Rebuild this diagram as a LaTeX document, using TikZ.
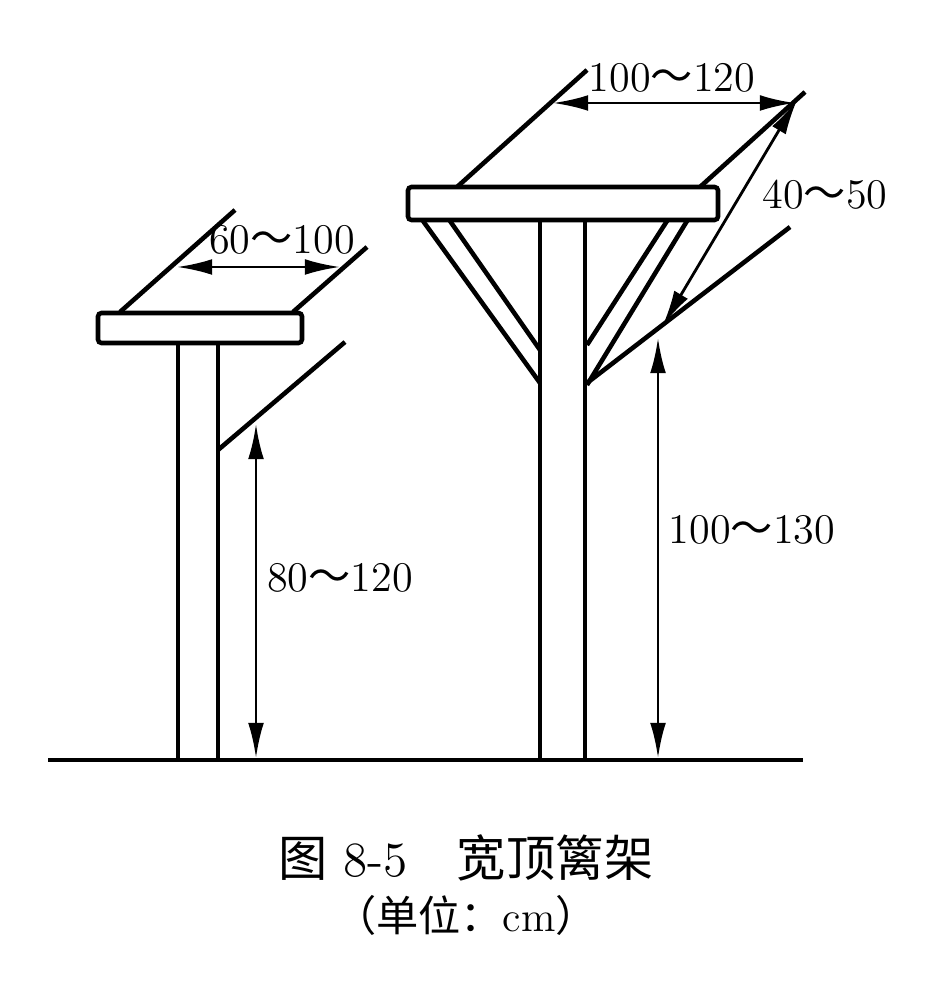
\documentclass[tikz,border=0pt]{standalone}
\usepackage{fontspec}
\newfontfamily\cjk{Noto Sans CJK SC}
\usetikzlibrary{arrows.meta}
\tikzset{
  part/.style={line width=1.3pt},
  dim/.style={line width=0.8pt,{Latex[length=10pt,width=4.5pt]}-{Latex[length=10pt,width=4.5pt]}},
  lbl/.style={font=\fontsize{12}{14}\selectfont}
}
\newcommand{\til}{{\cjk ～}}
\begin{document}
\begin{tikzpicture}[x=0.01cm,y=-0.01cm]
  \useasboundingbox (0,0) rectangle (933,992);
  % ground
  \draw[part] (48,760) -- (803,760);

  % left trellis
  \draw[part,rounded corners=1pt] (98,313) rectangle (302,343);
  \draw[part] (178,343) -- (178,758) (218,343) -- (218,758);
  \draw[part] (120,312) -- (235,210) (293,312) -- (367,247);
  \draw[part] (218,450) -- (345,342);
  \coordinate (la) at (177,267);
  \coordinate (lb) at (340,267);
  \draw[dim] (la) -- (lb);
  \node[lbl] (l1) at (282,240) {60\til100};
  \coordinate (lc) at (256,424);
  \coordinate (ld) at (256,758);
  \draw[dim] (lc) -- (ld);
  \node[lbl] (l2) at (340,578) {80\til120};

  % right trellis
  \draw[part,rounded corners=1pt] (408,187) rectangle (718,220);
  \draw[part] (540,220) -- (540,758) (585,220) -- (585,758);
  \draw[part] (423,221) -- (540,383) (450,221) -- (540,350);
  \draw[part] (667,221) -- (587,345) (687,221) -- (587,385);
  \draw[part] (587,383) -- (790,227);
  \draw[part] (457,187) -- (587,70) (700,187) -- (805,92);
  \coordinate (ra) at (553,103);
  \coordinate (rb) at (795,103);
  \draw[dim] (ra) -- (rb);
  \node[lbl] (r1) at (672,78) {100\til120};
  \coordinate (rc) at (663,325);
  \coordinate (rd) at (797,100);
  \draw[dim] (rc) -- (rd);
  \node[lbl] (r2) at (825,195) {40\til50};
  \coordinate (re) at (658,338);
  \coordinate (rf) at (658,758);
  \draw[dim] (re) -- (rf);
  \node[lbl] (r3) at (752,530) {100\til130};

  % caption
  \node[font=\fontsize{14}{17}\selectfont] (cap) at (466,858) {{\cjk 图} 8-5\quad{\cjk 宽顶篱架}};
  \node[font=\fontsize{12}{14}\selectfont] (unit) at (466,915) {{\cjk （单位：}cm{\cjk ）}};
\end{tikzpicture}
\end{document}
